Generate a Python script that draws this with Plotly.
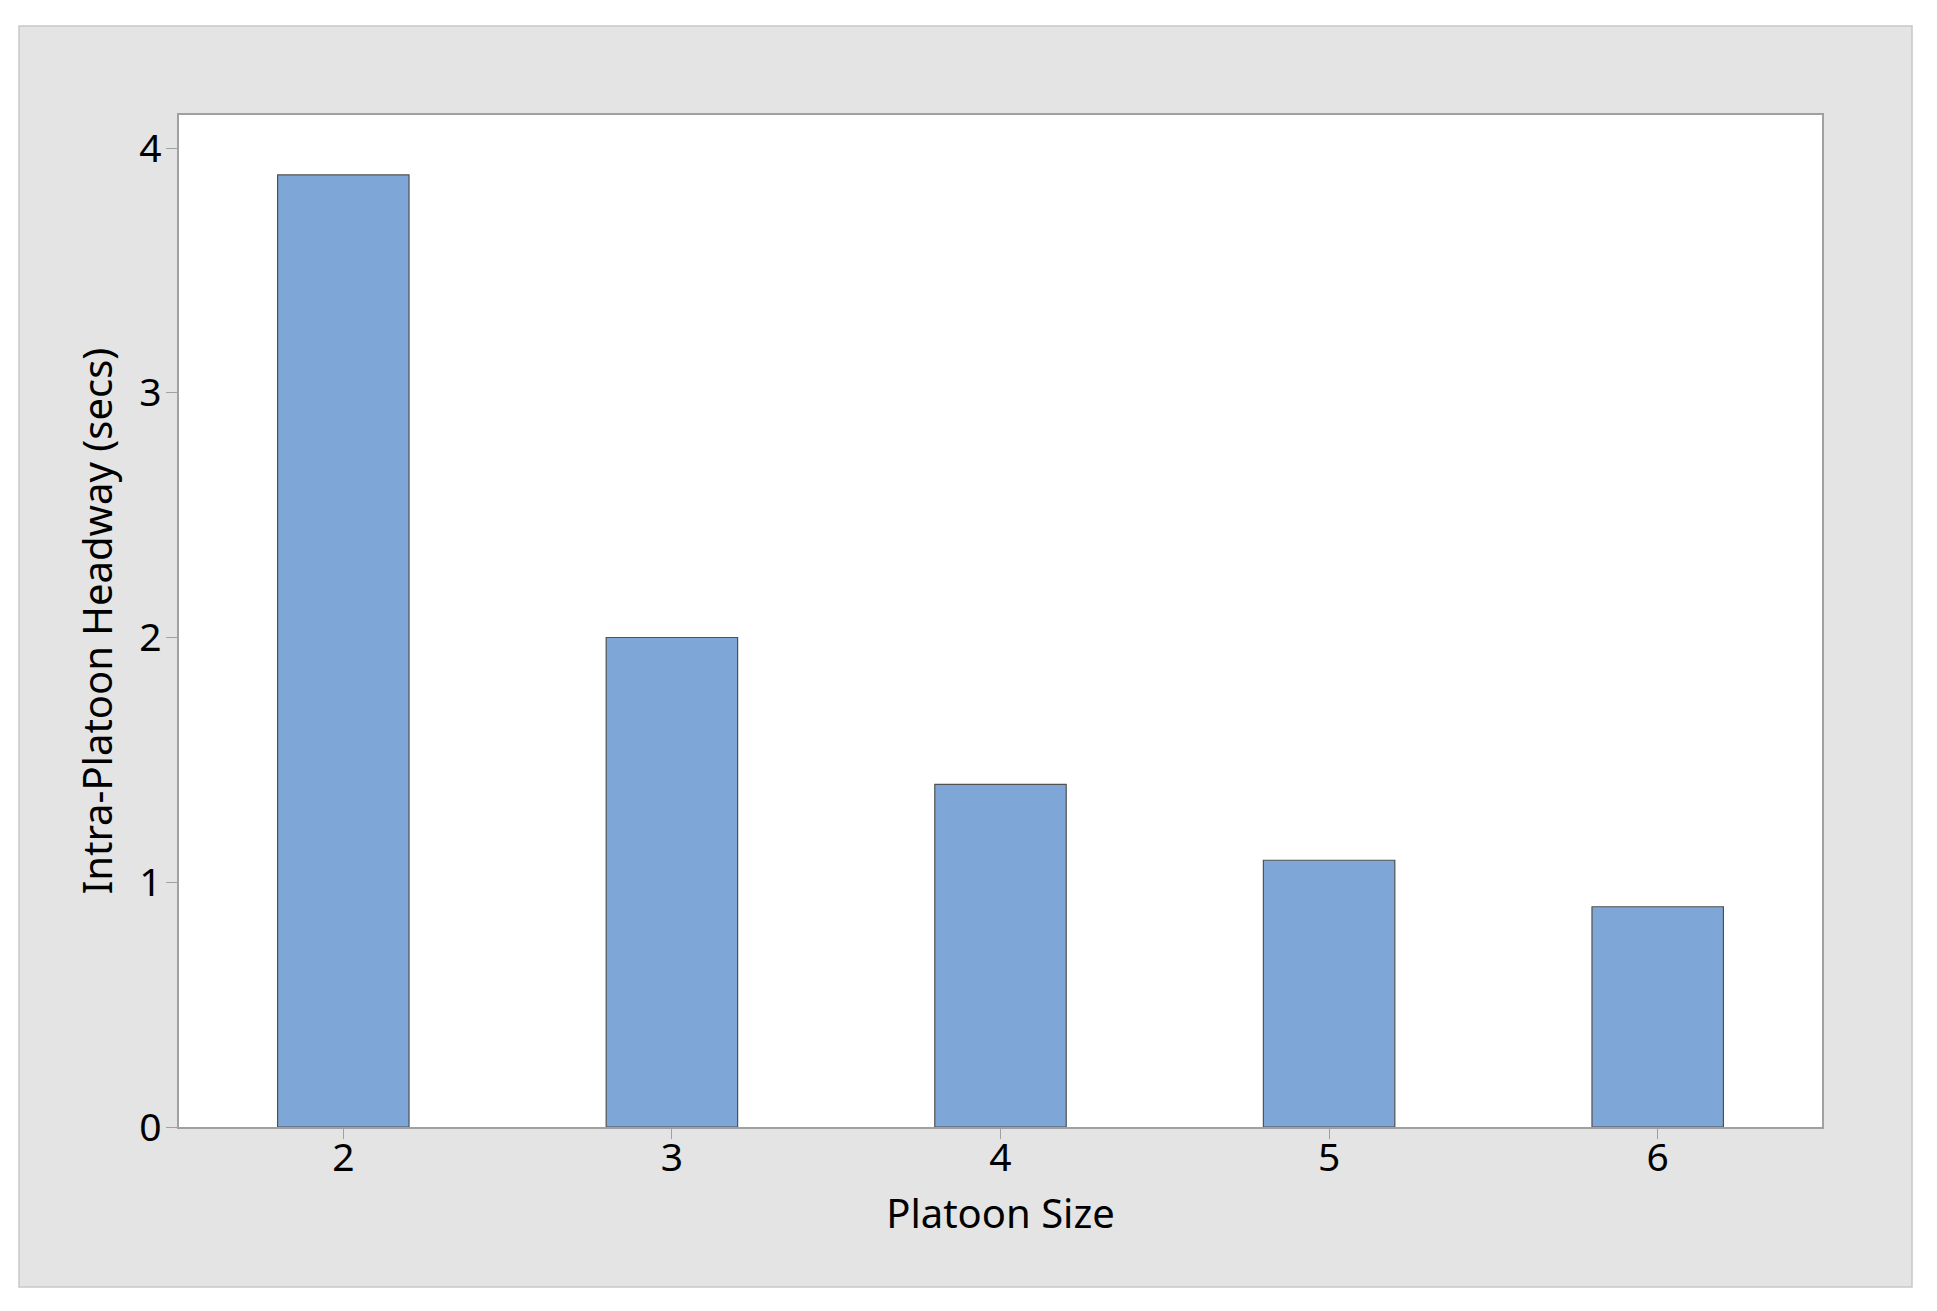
import plotly.graph_objects as go

platoon_size = [2, 3, 4, 5, 6]
headway = [3.89, 2.0, 1.4, 1.09, 0.9]

# page body has an 8px margin, so the figure is drawn 8px in from the window
OFF = 8
W, H = 1937 - 2 * OFF, 1311 - 2 * OFF
L, T = 179 - OFF, 115 - OFF
R, B = (1937 - OFF) - 1822, (1311 - OFF) - 1127
pw, ph = W - L - R, H - T - B

def px_x(x):
    return (x - OFF - L) / pw

def px_y(y):
    return (H - B - (y - OFF)) / ph

fig = go.Figure(go.Bar(
    x=platoon_size, y=headway, width=0.4,
    marker=dict(color="#7ea7d8", line=dict(color="#505050", width=1.2)),
))

# grey outer panel and white plot area
fig.add_shape(type="rect", xref="paper", yref="paper", layer="below",
              x0=px_x(19), x1=px_x(1912), y0=px_y(1287), y1=px_y(26),
              fillcolor="#e4e4e4", line=dict(color="#c8c8c8", width=1.5))
fig.add_shape(type="rect", xref="paper", yref="paper", layer="below",
              x0=0, x1=1, y0=0, y1=1,
              fillcolor="white", line=dict(width=0))

fig.update_layout(
    width=W, height=H,
    margin=dict(l=L, r=R, t=T, b=B),
    paper_bgcolor="white", plot_bgcolor="white",
    font=dict(family="Noto Sans", size=39, color="black"),
    showlegend=False,
)
fig.update_xaxes(
    range=[1.5, 6.5], tickvals=platoon_size, ticks="outside", ticklen=10,
    tickcolor="#a0a0a0", showline=True, linecolor="#a0a0a0", linewidth=1.5,
    mirror=True, showgrid=False, zeroline=False, ticklabelstandoff=-15,
    title=dict(text="Platoon Size", font=dict(size=40), standoff=19),
)
fig.update_yaxes(
    range=[0, 4.135], tickvals=[0, 1, 2, 3, 4], ticks="outside", ticklen=11,
    tickcolor="#a0a0a0", showline=True, linecolor="#a0a0a0", linewidth=1.5,
    mirror=True, showgrid=False, zeroline=False, ticklabelstandoff=-3,
    title=dict(text="Intra-Platoon Headway (secs)", font=dict(size=40), standoff=14),
)

fig.write_html("out.html")
